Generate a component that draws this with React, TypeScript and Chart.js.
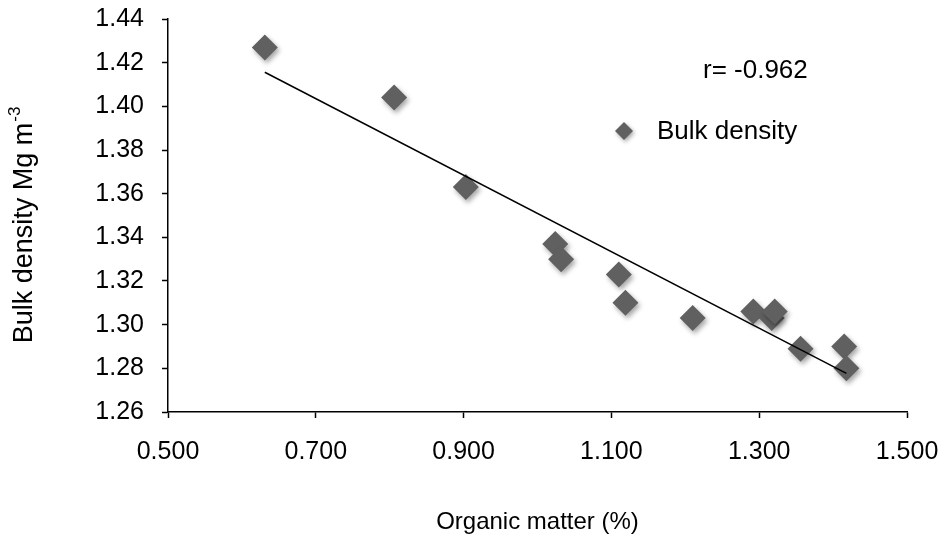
import { useEffect, useRef } from "react";
import { Chart, registerables } from "chart.js";

Chart.register(...registerables);

// Organic matter (%) against bulk density (Mg m-3) for each sample
const organicMatter = [0.631, 0.806, 0.903, 1.024, 1.032, 1.110, 1.119, 1.210, 1.292, 1.317, 1.321, 1.356, 1.415, 1.418];
const bulkDensity = [1.427, 1.404, 1.363, 1.337, 1.330, 1.323, 1.310, 1.303, 1.306, 1.303, 1.306, 1.289, 1.290, 1.280];

const xTicks = [0.5, 0.7, 0.9, 1.1, 1.3, 1.5];
const yTicks = [1.26, 1.28, 1.3, 1.32, 1.34, 1.36, 1.38, 1.4, 1.42, 1.44];

const seriesLabel = "Bulk density";
const correlationLabel = "r= -0.962";
const xTitle = "Organic matter (%)";
const yTitle = "Bulk density Mg m";
const yTitleSup = "-3";

const FONT = "'Liberation Sans', Arial, sans-serif";
const MARKER = "#606060";

// Least-squares fit used for the trend line
function linearFit(xs: number[], ys: number[]) {
  const n = xs.length;
  const mx = xs.reduce((a, b) => a + b, 0) / n;
  const my = ys.reduce((a, b) => a + b, 0) / n;
  let sxy = 0;
  let sxx = 0;
  for (let i = 0; i < n; i++) {
    sxy += (xs[i] - mx) * (ys[i] - my);
    sxx += (xs[i] - mx) * (xs[i] - mx);
  }
  const slope = sxy / sxx;
  return { slope, intercept: my - slope * mx };
}

const markerShadow = {
  id: "markerShadow",
  beforeDatasetDraw(chart: any, args: any) {
    if (chart.data.datasets[args.index].label !== seriesLabel) return;
    const ctx = chart.ctx;
    ctx.save();
    ctx.shadowColor = "rgba(0,0,0,0.35)";
    ctx.shadowBlur = 5;
    ctx.shadowOffsetX = 2;
    ctx.shadowOffsetY = 3;
  },
  afterDatasetDraw(chart: any, args: any) {
    if (chart.data.datasets[args.index].label !== seriesLabel) return;
    chart.ctx.restore();
  },
};

const annotations = {
  id: "annotations",
  afterDraw(chart: any) {
    const { ctx, chartArea } = chart;
    const { left, top } = chartArea;
    ctx.save();
    ctx.fillStyle = "#000";
    ctx.textBaseline = "middle";
    ctx.textAlign = "left";

    // correlation coefficient
    ctx.font = `26px ${FONT}`;
    ctx.fillText(correlationLabel, left + 535, top + 52);

    // legend entry
    const lx = left + 456;
    const ly = top + 112;
    ctx.save();
    ctx.shadowColor = "rgba(0,0,0,0.35)";
    ctx.shadowBlur = 4;
    ctx.shadowOffsetX = 1.5;
    ctx.shadowOffsetY = 2;
    ctx.fillStyle = MARKER;
    ctx.beginPath();
    ctx.moveTo(lx - 9, ly);
    ctx.lineTo(lx, ly - 9);
    ctx.lineTo(lx + 9, ly);
    ctx.lineTo(lx, ly + 9);
    ctx.closePath();
    ctx.fill();
    ctx.restore();
    ctx.fillText(seriesLabel, lx + 33, ly + 1);

    // y axis title with superscript exponent
    const cx = 22;
    const cy = (chartArea.top + chartArea.bottom) / 2 + 10;
    const mainFont = `27px ${FONT}`;
    const supFont = `17px ${FONT}`;
    ctx.font = mainFont;
    const wMain = ctx.measureText(yTitle).width;
    ctx.font = supFont;
    const wSup = ctx.measureText(yTitleSup).width;
    ctx.translate(cx, cy);
    ctx.rotate(-Math.PI / 2);
    const start = -(wMain + wSup) / 2;
    ctx.textBaseline = "alphabetic";
    ctx.font = mainFont;
    ctx.fillText(yTitle, start, 10);
    ctx.font = supFont;
    ctx.fillText(yTitleSup, start + wMain + 1, -2);
    ctx.restore();
  },
};

export default function App() {
  const canvasRef = useRef<HTMLCanvasElement>(null);

  useEffect(() => {
    const canvas = canvasRef.current;
    if (!canvas) return;
    const points = organicMatter.map((x, i) => ({ x, y: bulkDensity[i] }));
    const { slope, intercept } = linearFit(organicMatter, bulkDensity);
    const xMin = Math.min(...organicMatter);
    const xMax = Math.max(...organicMatter);
    const trend = [
      { x: xMin, y: intercept + slope * xMin },
      { x: xMax, y: intercept + slope * xMax },
    ];

    const tickFont = { family: FONT, size: 25 };

    const chart = new Chart(canvas, {
      type: "scatter",
      data: {
        datasets: [
          {
            label: "Trend",
            data: trend,
            showLine: true,
            borderColor: "#000",
            borderWidth: 1.5,
            pointRadius: 0,
            order: 0,
          },
          {
            label: seriesLabel,
            data: points,
            pointStyle: "rectRot",
            pointRadius: 13,
            pointBackgroundColor: MARKER,
            pointBorderWidth: 0,
            borderColor: MARKER,
            order: 1,
          },
        ],
      },
      options: {
        responsive: false,
        animation: false,
        layout: { padding: { left: 0, top: 19, right: 42, bottom: 0 } },
        plugins: {
          legend: { display: false },
          tooltip: { enabled: false },
        },
        scales: {
          x: {
            type: "linear",
            min: 0.5,
            max: 1.5,
            afterBuildTicks: (s: any) => {
              s.ticks = xTicks.map((value) => ({ value }));
            },
            ticks: {
              callback: (v: any) => Number(v).toFixed(3),
              font: tickFont,
              color: "#000",
              padding: 19,
              maxRotation: 0,
              autoSkip: false,
            },
            grid: {
              drawOnChartArea: false,
              drawTicks: true,
              tickLength: 6,
              tickColor: "#000",
              tickWidth: 1.5,
            },
            border: { color: "#000", width: 1.5 },
            title: {
              display: true,
              text: xTitle,
              font: { family: FONT, size: 24 },
              color: "#000",
              padding: { top: 0, bottom: 2 },
            },
            afterFit: (s: any) => {
              s.height = 127;
              s.paddingLeft = 0;
              s.paddingRight = 0;
            },
          },
          y: {
            min: 1.26,
            max: 1.44,
            afterBuildTicks: (s: any) => {
              s.ticks = yTicks.map((value) => ({ value }));
            },
            ticks: {
              callback: (v: any) => Number(v).toFixed(2),
              font: tickFont,
              color: "#000",
              padding: 18,
              autoSkip: false,
            },
            grid: {
              drawOnChartArea: false,
              drawTicks: true,
              tickLength: 6,
              tickColor: "#000",
              tickWidth: 1.5,
            },
            border: { color: "#000", width: 1.5 },
            afterFit: (s: any) => {
              s.width = 168;
              s.paddingTop = 0;
              s.paddingBottom = 0;
            },
          },
        },
      },
      plugins: [markerShadow, annotations],
    });

    return () => chart.destroy();
  }, []);

  return (
    <div style={{ position: "fixed", left: 0, top: 0, width: 949, height: 539, background: "#fff" }}>
      <canvas ref={canvasRef} width={949} height={539} style={{ display: "block" }} />
    </div>
  );
}
